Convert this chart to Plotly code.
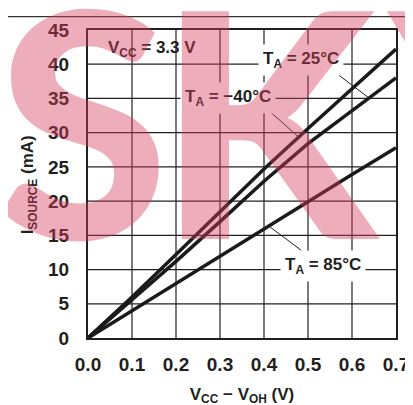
import plotly.graph_objects as go

# ---- data ----
v_diff = [0.0, 0.1, 0.2, 0.3, 0.4, 0.5, 0.6, 0.7]
i_m40 = [0.0, 6.0, 12.2, 18.5, 24.7, 30.6, 36.4, 42.2]
i_25 = [0.0, 5.6, 11.2, 17.0, 22.9, 28.4, 33.2, 38.0]
i_85 = [0.0, 4.0, 8.0, 11.9, 16.0, 19.9, 23.9, 27.8]
series_names = ["T<sub>A</sub> = −40°C", "T<sub>A</sub> = 25°C", "T<sub>A</sub> = 85°C"]

x_tick_vals = [0.0, 0.1, 0.2, 0.3, 0.4, 0.5, 0.6, 0.7]
x_tick_text = ["0.0", "0.1", "0.2", "0.3", "0.4", "0.5", "0.6", "0.7"]
y_tick_vals = [0, 5, 10, 15, 20, 25, 30, 35, 40, 45]
y_tick_text = ["0", "5", "10", "15", "20", "25", "30", "35", "40", "45"]

INK = "#231f20"
FONT = "Liberation Sans, Arial, Helvetica, sans-serif"

fig = go.Figure()

# grid drawn as a background trace at the tick positions
x_lo, x_hi = x_tick_vals[0], x_tick_vals[-1]
y_lo, y_hi = y_tick_vals[0], y_tick_vals[-1]
gx, gy = [], []
for xv in x_tick_vals[1:-1]:
    gx += [xv, xv, None]
    gy += [y_lo, y_hi, None]
for yv in y_tick_vals[1:-1]:
    gx += [x_lo, x_hi, None]
    gy += [yv, yv, None]
fig.add_trace(go.Scatter(x=gx, y=gy, mode="lines", line=dict(color=INK, width=1.2),
                         showlegend=False, hoverinfo="skip", connectgaps=False))

for ys, name in zip([i_m40, i_25, i_85], series_names):
    fig.add_trace(go.Scatter(x=v_diff, y=ys, mode="lines", name=name,
                             line=dict(color="#1a1a1a", width=3.5),
                             showlegend=False, hoverinfo="skip"))

shapes = []
# pointer lines from labels to curves
pointers = [
    (0.408, 33.4, 0.478, 29.4),
    (0.564, 38.7, 0.640, 35.0),
    (0.414, 16.2, 0.485, 12.8),
]
for x0, y0, x1, y1 in pointers:
    shapes.append(dict(type="line", xref="x", yref="y", x0=x0, y0=y0, x1=x1, y1=y1,
                       line=dict(color=INK, width=1), layer="above"))
# page rule at the top
shapes.append(dict(type="line", xref="paper", yref="paper", x0=-0.3, x1=1.1,
                   y0=1.0 + 14 / 321, y1=1.0 + 14 / 321, line=dict(color="#333", width=1.2)))

lab_font = dict(family=FONT, size=17, color=INK, weight="bold")
annotations = [
    dict(x=0.145, y=42.2, xref="x", yref="y", text="V<sub>CC</sub> = 3.3 V",
         showarrow=False, font=lab_font),
    dict(x=0.485, y=40.6, xref="x", yref="y", text=series_names[1],
         showarrow=False, font=lab_font, bgcolor="white", borderpad=4),
    dict(x=0.319, y=35.0, xref="x", yref="y", text=series_names[0],
         showarrow=False, font=lab_font, bgcolor="white", borderpad=4),
    dict(x=0.535, y=10.5, xref="x", yref="y", text=series_names[2],
         showarrow=False, font=lab_font, bgcolor="white", borderpad=4),
    # y-axis title
    dict(xref="paper", yref="paper", x=(20 - 80) / 318, y=(338 - 178) / 321,
         xanchor="center", yanchor="middle", textangle=-90, showarrow=False,
         text="I<sub>SOURCE</sub> (mA)", font=lab_font),
]
# watermark overlay (page decoration)
wm_font = dict(family="Lato, Roboto, Liberation Sans", size=314,
               color="rgba(215,60,90,0.42)", weight=900)
for letter, px_x, anchor in [("S", 74, "center"), ("K", 150, "left"), ("Y", 385, "left")]:
    annotations.append(dict(xref="paper", yref="paper", x=(px_x - 80) / 318, y=0.715,
                            xanchor=anchor, yanchor="middle", text=letter, showarrow=False,
                            font=wm_font))

fig.update_layout(
    width=413, height=405,
    margin=dict(l=80, r=15, t=17, b=67),
    paper_bgcolor="white", plot_bgcolor="white",
    font=dict(family=FONT, color=INK),
    shapes=shapes, annotations=annotations,
    xaxis=dict(range=[0, 0.7], tickmode="array", tickvals=x_tick_vals, ticktext=x_tick_text,
               showgrid=False,
               showline=True, linecolor=INK, linewidth=2, mirror=True,
               ticks="outside", ticklen=8, tickcolor="rgba(0,0,0,0)", zeroline=False,
               tickfont=dict(family=FONT, size=19, color=INK, weight="bold"),
               title=dict(text="V<sub>CC</sub> − V<sub>OH</sub> (V)", standoff=14,
                          font=dict(family=FONT, size=17, color=INK, weight="bold"))),
    yaxis=dict(range=[0, 45], tickmode="array", tickvals=y_tick_vals, ticktext=y_tick_text,
               showgrid=False,
               showline=True, linecolor=INK, linewidth=2, mirror=True,
               ticks="outside", ticklen=13, tickcolor="rgba(0,0,0,0)", zeroline=False,
               tickfont=dict(family=FONT, size=19, color=INK, weight="bold")),
)

fig.write_html("out.html")
